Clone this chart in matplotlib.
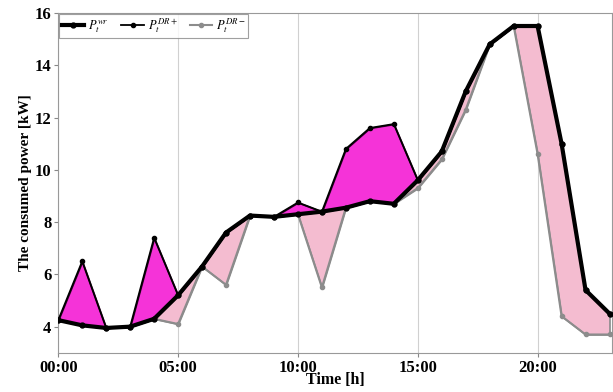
import numpy as np
import matplotlib
matplotlib.use("Agg")
import matplotlib.pyplot as plt

hours = list(range(24))
p_wr = [4.25, 4.05, 3.95, 4.0, 4.3, 5.2, 6.3, 7.6, 8.25, 8.2, 8.3, 8.4,
        8.55, 8.8, 8.7, 9.6, 10.7, 13.0, 14.8, 15.5, 15.5, 11.0, 5.4, 4.5]
p_dr_plus = [4.25, 6.5, 3.95, 4.0, 7.4, 5.2, 6.3, 7.6, 8.25, 8.2, 8.75, 8.4,
             10.8, 11.6, 11.75, 9.6, 10.7, 13.0, 14.8, 15.5, 15.5, 11.0, 5.4, 4.5]
p_dr_minus = [4.25, 4.05, 3.95, 4.0, 4.3, 4.1, 6.3, 5.6, 8.25, 8.2, 8.3, 5.5,
              8.55, 8.8, 8.7, 9.3, 10.4, 12.3, 14.8, 15.5, 10.6, 4.4, 3.7, 3.7]
xtick_pos = [0, 5, 10, 15, 20]
xtick_labels = ["00:00", "05:00", "10:00", "15:00", "20:00"]
ytick_pos = [4, 6, 8, 10, 12, 14, 16]

plt.rcParams['font.family'] = ['Liberation Serif', 'DejaVu Serif']
plt.rcParams['mathtext.fontset'] = 'stix'

fig = plt.figure(figsize=(6.13, 3.92), dpi=100)
ax = fig.add_axes([0.095, 0.1, 0.904, 0.867])

x = np.array(hours)
base = np.array(p_wr)
up = np.array(p_dr_plus)
down = np.array(p_dr_minus)

# shaded areas between the curves
ax.fill_between(x, base, down, where=down <= base, interpolate=True,
                facecolor='#f4bcd0', edgecolor='#8a8a8a', linewidth=1.2, zorder=2)
ax.fill_between(x, base, up, where=up >= base, interpolate=True,
                facecolor='#f533d8', edgecolor='#3a0030', linewidth=1.2, zorder=3)

ax.plot(x, down, color='#8c8c8c', lw=1.5, marker='o', ms=3, label=r'$P_t^{DR-}$', zorder=4)
ax.plot(x, up, color='black', lw=1.3, marker='o', ms=3, label=r'$P_t^{DR+}$', zorder=5)
ax.plot(x, base, color='black', lw=3, marker='o', ms=3.5, label=r'$P_t^{wr}$', zorder=6)

ax.set_xlim(0, 23.12)
ax.set_ylim(3, 16)
ax.set_xticks(xtick_pos)
ax.set_xticklabels(xtick_labels)
ax.set_yticks(ytick_pos)
ax.tick_params(labelsize=12, length=3, color='#888888', pad=2)
for lab in ax.get_xticklabels() + ax.get_yticklabels():
    lab.set_fontweight('bold')
ax.xaxis.grid(True, color='#d0d0d0', lw=0.8)
for s in ax.spines.values():
    s.set_color('#999999')

ax.set_xlabel('Time [h]', fontsize=11.5, fontweight='bold', labelpad=-3)
ax.set_ylabel('The consumed power [kW]', fontsize=11, fontweight='bold', labelpad=2)

h, l = ax.get_legend_handles_labels()
leg = ax.legend(h[::-1], l[::-1], loc='upper left', ncol=3, fontsize=9,
                frameon=True, fancybox=False, borderpad=0.2, handlelength=1.8,
                handletextpad=0.3, columnspacing=1.0, borderaxespad=0.1)
leg.get_frame().set_edgecolor('#888888')
leg.get_frame().set_linewidth(0.8)

fig.savefig('out.png', dpi=100)
